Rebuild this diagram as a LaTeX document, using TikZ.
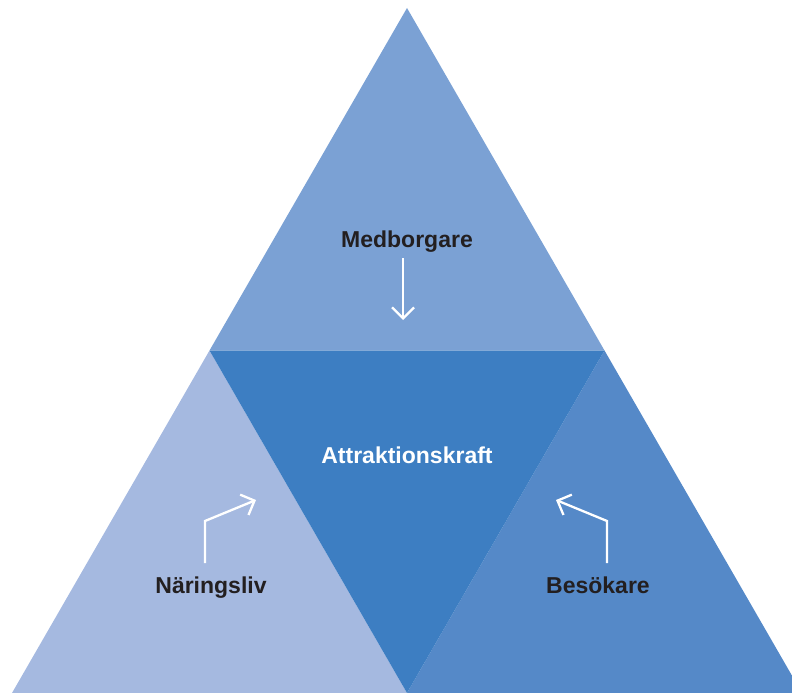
\documentclass[tikz,border=0pt]{standalone}
\usepackage{fontspec}
\setmainfont{Liberation Sans}
\usetikzlibrary{arrows.meta}
\definecolor{ctop}{HTML}{7BA1D4}
\definecolor{cmid}{HTML}{3D7EC2}
\definecolor{cleft}{HTML}{A5B9E0}
\definecolor{cright}{HTML}{5589C8}
\definecolor{ctext}{HTML}{231F20}
\tikzset{
  lbl/.style={font=\fontsize{23}{26}\selectfont\bfseries, text=ctext, inner sep=0pt, anchor=base},
  wlbl/.style={lbl, text=white},
  warrow/.style={draw=white, line width=2.3pt, -{Straight Barb[length=11pt,width=22pt,line width=2.3pt]}}
}
\begin{document}
\begin{tikzpicture}[x=1pt,y=-1pt]
\useasboundingbox (0,0) rectangle (792,693);
\clip (0,0) rectangle (792,693);
\coordinate (A) at (407,8);
\coordinate (L) at (12,693);
\coordinate (R) at (802,693);
\coordinate (ML) at (209.5,350.5);
\coordinate (MR) at (604.5,350.5);
\coordinate (MB) at (407,693);
\fill[ctop] (A) -- (ML) -- (MR) -- cycle;
\fill[cleft] (ML) -- (L) -- (MB) -- cycle;
\fill[cright] (MR) -- (MB) -- (R) -- cycle;
\fill[cmid] (ML) -- (MR) -- (MB) -- cycle;
\node[lbl] (med) at (407,247.5) {Medborgare};
\node[wlbl] (att) at (407,463) {Attraktionskraft};
\node[lbl] (nar) at (211,593.3) {Näringsliv};
\node[lbl] (bes) at (598,593.3) {Besökare};
\coordinate (m1) at (403,258);
\coordinate (m2) at (403,320);
\draw[warrow] (m1) -- (m2);
\coordinate (l1) at (205,563);
\coordinate (l2) at (205,521);
\coordinate (l3) at (256,500);
\draw[warrow] (l1) -- (l2) -- (l3);
\coordinate (r1) at (607,563);
\coordinate (r2) at (607,521);
\coordinate (r3) at (556,500);
\draw[warrow] (r1) -- (r2) -- (r3);
\end{tikzpicture}
\end{document}
